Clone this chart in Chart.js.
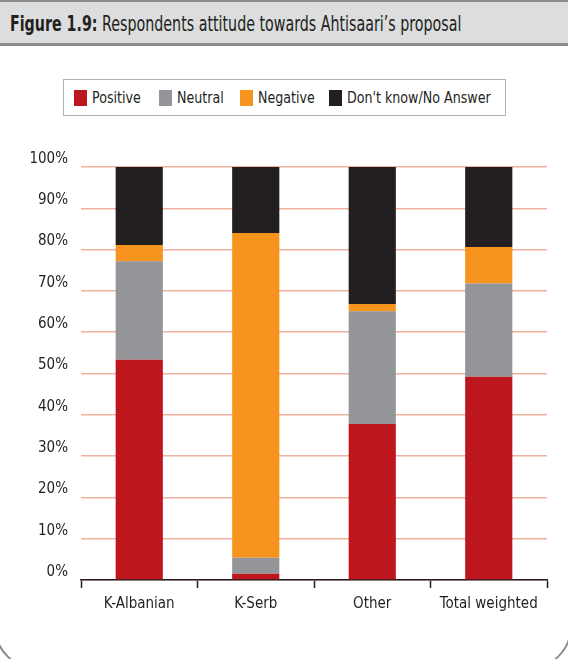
<!DOCTYPE html>
<html>
<head>
<meta charset="utf-8">
<script src="https://cdn.jsdelivr.net/npm/chart.js@4.4.1/dist/chart.umd.min.js"></script>
<style>
  html, body { margin: 0; padding: 0; background: #fff; overflow: hidden; }
  body { font-family: "DejaVu Sans Condensed", "Liberation Sans", sans-serif; color: #231f20; }
  #page { position: relative; width: 568px; height: 659px; overflow: hidden; }
  #frame { position: absolute; left: -6px; top: 0; width: 578px; height: 670px;
           border: 2px solid #8c8c8c; border-radius: 0 0 44px 44px; box-sizing: border-box; }
  #titlebar { position: absolute; left: 0; top: 0; width: 568px; height: 46px; box-sizing: border-box;
              background: #dcddde; border-top: 2px solid #8c8c8c; border-bottom: 3px solid #8c8c8c; }
  #title { position: absolute; left: 10px; top: 9px; font-size: 22px; white-space: nowrap; color: #231f20;
           transform: scaleX(0.72); transform-origin: left center; }
  #title b { font-weight: bold; }
  #legend { position: absolute; left: 63px; top: 79px; width: 443px; height: 37px; box-sizing: border-box;
            border: 1px solid #b3b3b3; background: #fff; }
  .item { position: absolute; top: 0; height: 35px; font-size: 16px; line-height: 35px; white-space: nowrap; }
  .sw { display: inline-block; width: 13px; height: 16px; vertical-align: -3px; margin-right: 5px; }
  .txt { display: inline-block; transform: scaleX(0.88); transform-origin: left center; }
  #wrap { position: absolute; left: 0; top: 120px; width: 568px; height: 539px; }
</style>
</head>
<body>
<div id="page">
<div id="frame"></div>
<div id="titlebar"><div id="title"><b>Figure 1.9:</b> Respondents attitude towards Ahtisaari’s proposal</div></div>
<div id="legend"></div>
<div id="wrap"><canvas id="c" width="568" height="539"></canvas></div>
</div>
<script>
// Survey groups and answer shares (% of respondents)
const categories = ["K-Albanian", "K-Serb", "Other", "Total weighted"];
const positive = [53.3, 1.5, 37.8, 49.2];
const neutral  = [23.9, 3.9, 27.3, 22.6];
const negative = [3.9, 78.6, 1.7, 8.8];
const dontKnow = [18.9, 16.0, 33.2, 19.4];
const seriesNames = ["Positive", "Neutral", "Negative", "Don't know/No Answer"];
const yTickLabels = ["0%", "10%", "20%", "30%", "40%", "50%", "60%", "70%", "80%", "90%", "100%"];

const colors = ["#bd161c", "#939598", "#f7941d", "#231f20"];
const seriesData = [positive, neutral, negative, dontKnow];
const fontFamily = '"DejaVu Sans Condensed", "Liberation Sans", sans-serif';

// Legend row
const legendX = [10, 95, 176, 265];
const legend = document.getElementById("legend");
seriesNames.forEach((name, i) => {
  const it = document.createElement("div");
  it.className = "item";
  it.style.left = legendX[i] + "px";
  it.innerHTML = '<span class="sw" style="background:' + colors[i] + '"></span><span class="txt">' + name + '</span>';
  legend.appendChild(it);
});

new Chart(document.getElementById("c"), {
  type: "bar",
  data: {
    labels: categories,
    datasets: seriesNames.map((name, i) => ({
      label: name,
      data: seriesData[i],
      backgroundColor: colors[i],
      borderWidth: 0,
      categoryPercentage: 1,
      barPercentage: 0.405
    }))
  },
  options: {
    responsive: false,
    animation: false,
    events: [],
    layout: { padding: { top: 47, right: 21, bottom: 39, left: 0 } },
    plugins: { legend: { display: false }, tooltip: { enabled: false } },
    scales: {
      x: {
        stacked: true,
        afterFit: s => { s.height = 40; },
        grid: { offset: true, drawOnChartArea: false, drawTicks: true, tickLength: 8,
                color: "#231f20", tickWidth: 1.5 },
        border: { display: true, color: "#231f20", width: 1.5 },
        ticks: { color: "#231f20", padding: 7, font: { family: fontFamily, size: 15 } }
      },
      y: {
        stacked: true,
        min: 0, max: 100,
        afterFit: s => { s.width = 81; },
        grid: { color: "#efb29f", lineWidth: 1.5, drawTicks: false },
        border: { display: false },
        ticks: {
          stepSize: 10,
          padding: 13,
          labelOffset: -8,
          color: "#231f20",
          font: { family: fontFamily, size: 15 },
          callback: (v) => yTickLabels[Math.round(v / 10)]
        }
      }
    }
  }
});
</script>
</body>
</html>
